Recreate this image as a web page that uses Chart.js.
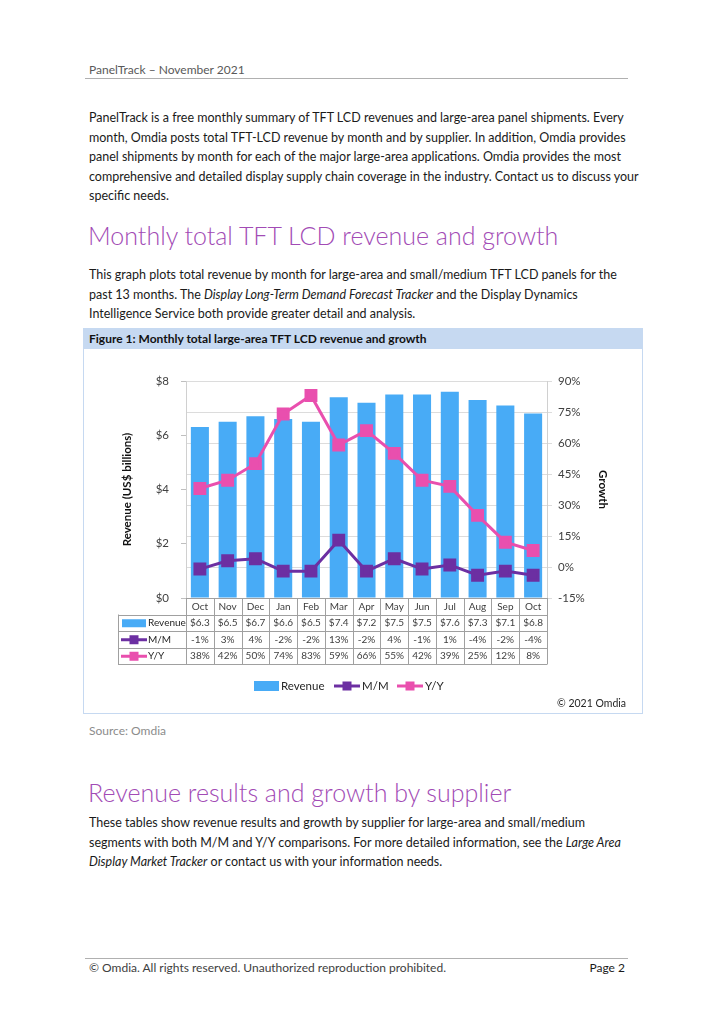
<!DOCTYPE html>
<html>
<head>
<meta charset="utf-8">
<script src="https://cdn.jsdelivr.net/npm/chart.js@4.4.0/dist/chart.umd.min.js"></script>
<style>
  html, body { margin: 0; padding: 0; background: #fff; }
  body { width: 724px; height: 1024px; position: relative; font-family: Lato, 'Open Sans', sans-serif; color: #1a1a1a; }
  .abs { position: absolute; white-space: nowrap; }
  .hdr { left: 89px; top: 62px; font-size: 12px; color: #595959; line-height: 16px; }
  .rule { position: absolute; left: 85px; width: 543px; height: 1px; background: #b0b0b0; }
  .p { left: 89px; font-size: 12.5px; line-height: 19.5px; color: #1a1a1a; }
  .h1 { left: 88px; font-size: 25px; line-height: 34px; color: #a24bb5; font-weight: 300; }
  .src { left: 89px; top: 723px; font-size: 12px; line-height: 16px; color: #8c8c8c; }
  .foot { left: 89px; top: 960px; font-size: 12px; line-height: 16px; color: #404040; }
  .page { left: 589px; top: 960px; width: 36px; text-align: right; font-size: 12px; line-height: 16px; color: #1a1a1a; }
  #fig { position: absolute; left: 83px; top: 328px; width: 558px; height: 384px; border: 1px solid #c6d9f1; }
  #figHead { height: 20px; background: #c6d9f1; font-size: 12px; font-weight: bold; line-height: 20px; padding-left: 5px; color: #111; }
  #chartBox { position: relative; width: 558px; height: 364px; }
</style>
</head>
<body>
<div class="abs hdr">PanelTrack – November 2021</div>
<div class="rule" style="top:78px"></div>

<div class="abs p" style="top:108px">PanelTrack is a free monthly summary of TFT LCD revenues and large-area panel shipments. Every</div>
<div class="abs p" style="top:127.5px">month, Omdia posts total TFT-LCD revenue by month and by supplier. In addition, Omdia provides</div>
<div class="abs p" style="top:147px">panel shipments by month for each of the major large-area applications. Omdia provides the most</div>
<div class="abs p" style="top:166.5px">comprehensive and detailed display supply chain coverage in the industry. Contact us to discuss your</div>
<div class="abs p" style="top:186px">specific needs.</div>

<div class="abs h1" style="top:218px">Monthly total TFT LCD revenue and growth</div>

<div class="abs p" style="top:265px">This graph plots total revenue by month for large-area and small/medium TFT LCD panels for the</div>
<div class="abs p" style="top:284.5px">past 13 months. The <i>Display Long-Term Demand Forecast Tracker</i> and the Display Dynamics</div>
<div class="abs p" style="top:304px">Intelligence Service both provide greater detail and analysis.</div>

<div id="fig">
  <div id="figHead">Figure 1: Monthly total large-area TFT LCD revenue and growth</div>
  <div id="chartBox"><canvas id="chartRevenue"></canvas></div>
</div>

<div class="abs src">Source: Omdia</div>

<div class="abs h1" style="top:775px">Revenue results and growth by supplier</div>

<div class="abs p" style="top:813px">These tables show revenue results and growth by supplier for large-area and small/medium</div>
<div class="abs p" style="top:832.5px">segments with both M/M and Y/Y comparisons. For more detailed information, see the <i>Large Area</i></div>
<div class="abs p" style="top:852px"><i>Display Market Tracker</i> or contact us with your information needs.</div>

<div class="rule" style="top:958px"></div>
<div class="abs foot">© Omdia. All rights reserved. Unauthorized reproduction prohibited.</div>
<div class="abs page">Page 2</div>

<script>
const months = ['Oct', 'Nov', 'Dec', 'Jan', 'Feb', 'Mar', 'Apr', 'May', 'Jun', 'Jul', 'Aug', 'Sep', 'Oct'];
const revenue = [6.3, 6.5, 6.7, 6.6, 6.5, 7.4, 7.2, 7.5, 7.5, 7.6, 7.3, 7.1, 6.8];
const momGrowth = [-1, 3, 4, -2, -2, 13, -2, 4, -1, 1, -4, -2, -4];
const yoyGrowth = [38, 42, 50, 74, 83, 59, 66, 55, 42, 39, 25, 12, 8];
const revenueTicks = [0, 2, 4, 6, 8];
const growthTicks = [-15, 0, 15, 30, 45, 60, 75, 90];

const BLUE = '#48abf6';
const PURPLE = '#6c2fa2';
const PINK = '#e94fae';
const FONT = 'Lato, "Open Sans", sans-serif';

Chart.defaults.font.family = FONT;
Chart.defaults.color = '#404040';

// Excel-style data table, legend and copyright under the plot
const tablePlugin = {
  id: 'dataTable',
  afterDraw(chart) {
    const { ctx, chartArea, scales: { x } } = chart;
    const rowH = 16.5;
    const top = chartArea.bottom;
    const left = 34;
    const right = chartArea.right;
    const step = x.getPixelForValue(1) - x.getPixelForValue(0);
    const line = (x1, y1, x2, y2) => { ctx.beginPath(); ctx.moveTo(x1, y1); ctx.lineTo(x2, y2); ctx.stroke(); };

    ctx.save();
    ctx.strokeStyle = '#a0a0a0';
    ctx.lineWidth = 1;
    for (let r = 1; r <= 4; r++) {
      const y = Math.round(top + r * rowH) + 0.5;
      line(left, y, right, y);
    }
    line(left + 0.5, top + rowH, left + 0.5, top + 4 * rowH);
    for (let i = 0; i <= months.length; i++) {
      const xx = Math.round(x.getPixelForValue(0) - step / 2 + i * step) + 0.5;
      line(xx, top, xx, Math.round(top + 4 * rowH) + 0.5);
    }

    ctx.textAlign = 'center';
    ctx.textBaseline = 'middle';
    ctx.font = '10px ' + FONT;
    ctx.fillStyle = '#404040';
    const rows = [
      months,
      revenue.map(v => '$' + v.toFixed(1)),
      momGrowth.map(v => v + '%'),
      yoyGrowth.map(v => v + '%')
    ];
    rows.forEach((row, r) => {
      const y = top + r * rowH + rowH / 2 + 0.5;
      row.forEach((t, i) => ctx.fillText(t, x.getPixelForValue(i), y));
    });

    const drawLineKey = (x0, y, w, color) => {
      ctx.strokeStyle = color;
      ctx.lineWidth = 3;
      line(x0, y, x0 + w, y);
      ctx.fillStyle = color;
      ctx.fillRect(x0 + w / 2 - 4.5, y - 4.5, 9, 9);
    };

    // row headers
    ctx.textAlign = 'left';
    const hy = r => top + r * rowH + rowH / 2 + 0.5;
    ctx.fillStyle = BLUE;
    ctx.fillRect(left + 4, hy(1) - 4, 24, 8);
    drawLineKey(left + 3, hy(2), 26, PURPLE);
    drawLineKey(left + 3, hy(3), 26, PINK);
    ctx.fillStyle = '#262626';
    ctx.fillText('Revenue', left + 30, hy(1));
    ctx.fillText('M/M', left + 30, hy(2));
    ctx.fillText('Y/Y', left + 30, hy(3));

    // legend
    const ly = 337;
    ctx.font = '11.5px ' + FONT;
    ctx.fillStyle = BLUE;
    ctx.fillRect(170, ly - 5, 25, 10);
    drawLineKey(250, ly, 26, PURPLE);
    drawLineKey(313, ly, 26, PINK);
    ctx.fillStyle = '#262626';
    ctx.fillText('Revenue', 197, ly);
    ctx.fillText('M/M', 278, ly);
    ctx.fillText('Y/Y', 341, ly);

    // copyright
    ctx.textAlign = 'right';
    ctx.font = '10.5px ' + FONT;
    ctx.fillText('© 2021 Omdia', 542, 355);
    ctx.restore();
  }
};

new Chart(document.getElementById('chartRevenue').getContext('2d'), {
  type: 'bar',
  data: {
    labels: months,
    datasets: [
      {
        label: 'Revenue',
        data: revenue,
        backgroundColor: BLUE,
        yAxisID: 'y',
        categoryPercentage: 1,
        barPercentage: 0.65,
        order: 3
      },
      {
        type: 'line',
        label: 'M/M',
        data: momGrowth,
        borderColor: PURPLE,
        backgroundColor: PURPLE,
        borderWidth: 3,
        pointStyle: 'rect',
        pointRadius: 7,
        pointHoverRadius: 7,
        tension: 0,
        yAxisID: 'y1',
        order: 2
      },
      {
        type: 'line',
        label: 'Y/Y',
        data: yoyGrowth,
        borderColor: PINK,
        backgroundColor: PINK,
        borderWidth: 3,
        pointStyle: 'rect',
        pointRadius: 7,
        pointHoverRadius: 7,
        tension: 0,
        yAxisID: 'y1',
        order: 1
      }
    ]
  },
  options: {
    responsive: true,
    maintainAspectRatio: false,
    animation: false,
    layout: { padding: { top: 32, left: 36, right: 32, bottom: 0 } },
    scales: {
      x: {
        ticks: { display: false },
        grid: { display: false },
        border: { color: '#a0a0a0' },
        afterFit: s => { s.height = 115; }
      },
      y: {
        position: 'left',
        min: 0,
        max: 8,
        afterBuildTicks: s => { s.ticks = revenueTicks.map(v => ({ value: v })); },
        ticks: {
          padding: 12,
          font: { size: 11.5 },
          color: '#404040',
          callback: v => '$' + v
        },
        grid: { drawOnChartArea: false, drawTicks: true, tickLength: 5, color: '#bfbfbf' },
        border: { color: '#d0d0d0' },
        title: {
          display: true,
          text: 'Revenue (US$ billions)',
          font: { size: 11.5, weight: 'bold' },
          color: '#111',
          padding: { top: 0, bottom: 0 }
        },
        afterFit: s => { s.width = 66; }
      },
      y1: {
        position: 'right',
        min: -15,
        max: 90,
        afterBuildTicks: s => { s.ticks = growthTicks.map(v => ({ value: v })); },
        ticks: {
          padding: 6,
          font: { size: 11.5 },
          color: '#404040',
          callback: v => v + '%'
        },
        grid: { color: '#dcdcdc', tickLength: 5 },
        border: { color: '#d0d0d0' },
        title: {
          display: true,
          text: 'Growth',
          font: { size: 11.5, weight: 'bold' },
          color: '#111',
          padding: { top: 0, bottom: 0 }
        },
        afterFit: s => { s.width = 63; }
      }
    },
    plugins: {
      legend: { display: false },
      tooltip: { enabled: false }
    }
  },
  plugins: [tablePlugin]
});
</script>
</body>
</html>
